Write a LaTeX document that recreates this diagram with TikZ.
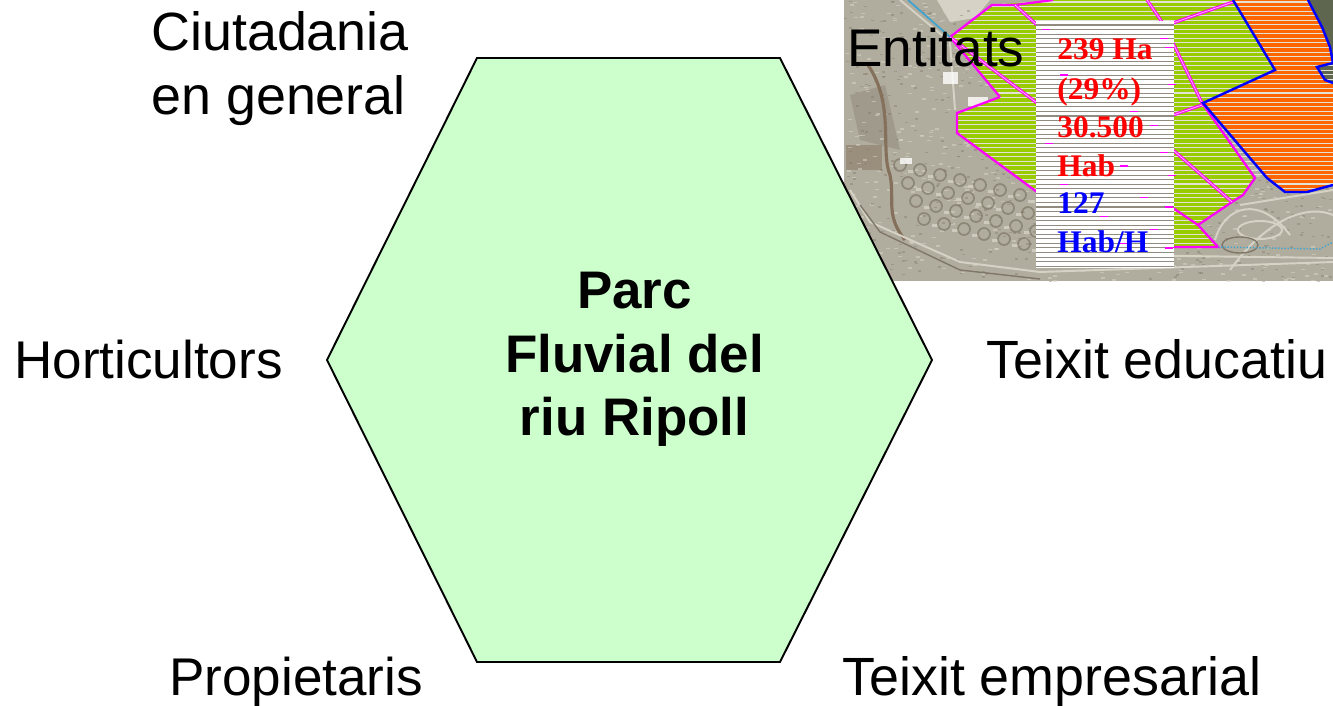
\documentclass[tikz,border=0pt]{standalone}
\usepackage{fontspec}
\setmainfont{Liberation Sans}
\newfontfamily\mapfont{Liberation Serif}
\definecolor{hexfill}{HTML}{CCFFCC}
\definecolor{photobase}{HTML}{B1AD9E}
\definecolor{photodark}{HTML}{7F7768}
\definecolor{photolight}{HTML}{D6D3C6}
\definecolor{landgreen}{HTML}{99CC00}
\definecolor{landorange}{HTML}{FF6600}
\definecolor{plotpink}{HTML}{FF00FF}
\definecolor{plotpale}{HTML}{FFC0FF}
\definecolor{riverbrown}{HTML}{85705C}
\definecolor{woods}{HTML}{5F6650}
\definecolor{stripelight}{HTML}{E2E2D6}
\definecolor{stripedark}{HTML}{928C80}
\definecolor{boundblue}{HTML}{3FA3D0}
\definecolor{zoneblue}{HTML}{0000FF}
\tikzset{
  actor/.style={anchor=base west, inner sep=0pt, font=\fontsize{30.2}{36.4}\selectfont},
  actorwide/.style={anchor=base west, inner sep=0pt, font=\fontsize{30.65}{36.4}\selectfont},
  hub/.style={align=center, inner sep=0pt, font=\bfseries\fontsize{30.1}{36.2}\selectfont},
  plot/.style={draw=plotpink, line width=1.3pt},
  plotpair/.style={draw=plotpink, line width=0.65pt, double=plotpale, double distance=0.45pt},
  zone/.style={draw=zoneblue, line width=1.4pt},
  road/.style={draw=photolight, line width=1.1pt},
  figs/.style={anchor=base west, inner sep=0pt, font=\mapfont\bfseries\fontsize{17.9}{21.8}\selectfont}
}
\begin{document}
\begin{tikzpicture}[x=0.02cm, y=-0.02cm]
\useasboundingbox (0,0) rectangle (1333,706);
% aerial photo
\begin{scope}
\clip (844,0) rectangle (1333,281);
\fill[photobase] (844,0) rectangle (1333,281);
\fill[photolight] (937,0) -- (990,0) -- (975,18) -- (950,22) -- cycle;
\fill[riverbrown, opacity=0.5] (846,145) rectangle (882,170);
\fill[photodark, opacity=0.35] (850,95) -- (885,85) -- (900,150) -- (860,140) -- cycle;
\pgfmathsetseed{11}
\foreach \i in {1,...,700} {
  \pgfmathsetmacro{\px}{844+rnd*489}
  \pgfmathsetmacro{\py}{rnd*281}
  \fill[photodark, opacity=0.4] (\px,\py) rectangle +(3,1.5);
  \pgfmathsetmacro{\qx}{844+rnd*489}
  \pgfmathsetmacro{\qy}{rnd*281}
  \fill[photolight, opacity=0.55] (\qx,\qy) rectangle +(4,1.5);
}
\foreach \cx in {0,...,6}
  \foreach \cy in {0,...,3} {
    \draw[photodark, opacity=0.7, line width=1pt] (900+\cx*20+\cy*8,165+\cy*18+\cx*5) circle (6);
    \fill[photolight, opacity=0.8] (908+\cx*20+\cy*8,170+\cy*18+\cx*5) rectangle +(7,3);
  }
\draw[riverbrown, line width=1.8pt] (868,65) .. controls (895,105) and (880,150) .. (890,175) .. controls (895,200) and (885,215) .. (905,240);
\draw[road] (850,190) -- (870,222) -- (960,262) -- (1040,272) -- (1333,262);
\draw[photodark, line width=0.8pt] (860,205) -- (880,232) -- (960,270) -- (1040,279);
\draw[road] (1037,254) -- (1333,258);
\draw[road] (900,0) -- (950,42) -- (955,110);
\draw[road] (1240,205) -- (1333,190);
\draw[road] (1215,240) .. controls (1225,205) and (1260,195) .. (1290,235);
\draw[road] (1230,270) .. controls (1270,215) and (1310,205) .. (1333,215);
\draw[road] (1260,230) ellipse (22 and 9);
\draw[photodark, line width=0.8pt] (1240,245) ellipse (18 and 8);
\fill[white, opacity=0.8] (943,72) rectangle (958,84);
\fill[white, opacity=0.8] (968,97) rectangle (988,106);
\fill[white, opacity=0.8] (900,158) rectangle (912,164);
\fill[woods] (1308,0) -- (1322,27) -- (1330,47) -- (1333,60) -- (1333,0) -- cycle;
\fill[woods] (1317,67) -- (1325,80) -- (1333,83) -- (1333,63) -- cycle;
% planned land
\fill[landgreen] (950,37) -- (992,5) -- (1053,0) -- (1232,0) -- (1275,70) -- (1202,103) -- (1255,178) -- (1243,195) -- (1232,202) -- (1198,225) -- (1218,247) -- (1037,247) -- (1037,192) -- (957,133) -- (957,113) -- (1000,97) -- cycle;
\fill[landorange] (1233,0) -- (1308,0) -- (1322,27) -- (1330,47) -- (1333,63) -- (1317,67) -- (1325,80) -- (1333,83) -- (1333,185) -- (1307,192) -- (1285,192) -- (1267,178) -- (1203,103) -- (1275,70) -- cycle;
\begin{scope}
\clip (950,37) -- (992,5) -- (1053,0) -- (1308,0) -- (1322,27) -- (1330,47) -- (1333,63) -- (1333,185) -- (1307,192) -- (1285,192) -- (1267,178) -- (1255,178) -- (1243,195) -- (1232,202) -- (1198,225) -- (1218,247) -- (1037,247) -- (1037,192) -- (957,133) -- (957,113) -- (1000,97) -- cycle;
\foreach \y in {2,6.55,...,250}
  \draw[stripelight, line width=0.6pt] (950,\y) -- (1333,\y);
\end{scope}
\draw[plot] (1000,97) -- (950,37) -- (992,5) -- (1015,5) -- (1053,0);
\draw[plot] (1000,97) -- (957,113) -- (957,133) -- (1037,192);
\draw[plotpair] (1015,5) -- (1037,25);
\draw[plotpair] (950,37) -- (1037,103);
\draw[plotpair] (1147,0) -- (1162,22);
\draw[plotpair] (1173,23) -- (1233,2);
\draw[plotpair] (1173,43) -- (1202,103);
\draw[plot] (1202,103) -- (1255,178) -- (1243,195) -- (1232,202) -- (1198,225) -- (1218,247) -- (1037,247);
\draw[plotpair] (1173,115) -- (1202,105);
\draw[plotpair] (1173,150) -- (1232,202);
\draw[plot] (1173,208) -- (1198,225);
\draw[zone] (1233,0) -- (1275,70) -- (1203,103) -- (1267,178) -- (1285,192) -- (1307,192) -- (1333,185);
\draw[zone] (1308,0) -- (1322,27) -- (1330,47) -- (1333,63) -- (1317,67) -- (1325,80) -- (1333,83);
\draw[boundblue, line width=0.8pt, densely dotted] (1218,247) -- (1320,249) -- (1333,242);
\draw[boundblue, line width=1pt] (908,0) -- (950,37);
% white panel with the figures
\fill[white] (1036,21) rectangle (1174,268);
\foreach \n in {0,...,53}
  \draw[stripedark, line width=0.6pt] (1036,25+\n*4.55) -- (1174,25+\n*4.55);
\foreach \mx/\n in {1042/1, 1160/3, 1165/5, 1060/11, 1168/13, 1130/19, 1150/22, 1045/26, 1160/28, 1120/31, 1168/33, 1060/35, 1140/38, 1165/40, 1100/42, 1150/45, 1120/48, 1165/49}
  \draw[plotpink, line width=0.65pt] (\mx,25+\n*4.55) -- +(8,0);
\end{scope}
\node[figs, text=red] (areaha) at (1057,60) {239 Ha};
\node[figs, text=red] (areapct) at (1057,99.5) {(29\%)};
\node[figs, text=red] (popnum) at (1057,138) {30.500};
\node[figs, text=red] (popunit) at (1057,176) {Hab};
\node[figs, text=blue] (densnum) at (1057,214) {127};
\node[figs, text=blue] (densunit) at (1057,252.5) {Hab/H};
% hexagon and stakeholders
\draw[fill=hexfill, line width=1.1pt] (477,58) -- (780,58) -- (932,360) -- (780,662) -- (477,662) -- (327,360) -- cycle;
\node[hub] (parc) at (634.5,359.5) {Parc\\Fluvial del\\riu Ripoll};
\node[actorwide] (ciutadania) at (151,51) {Ciutadania};
\node[actorwide] (general) at (151,115) {en general};
\node[actor] (entitats) at (847,67) {Entitats};
\node[actor] (horticultors) at (14,378) {Horticultors};
\node[actorwide] (educatiu) at (986,378) {Teixit educatiu};
\node[actor] (propietaris) at (169,695) {Propietaris};
\node[actorwide] (empresarial) at (842,695) {Teixit empresarial};
\end{tikzpicture}
\end{document}
